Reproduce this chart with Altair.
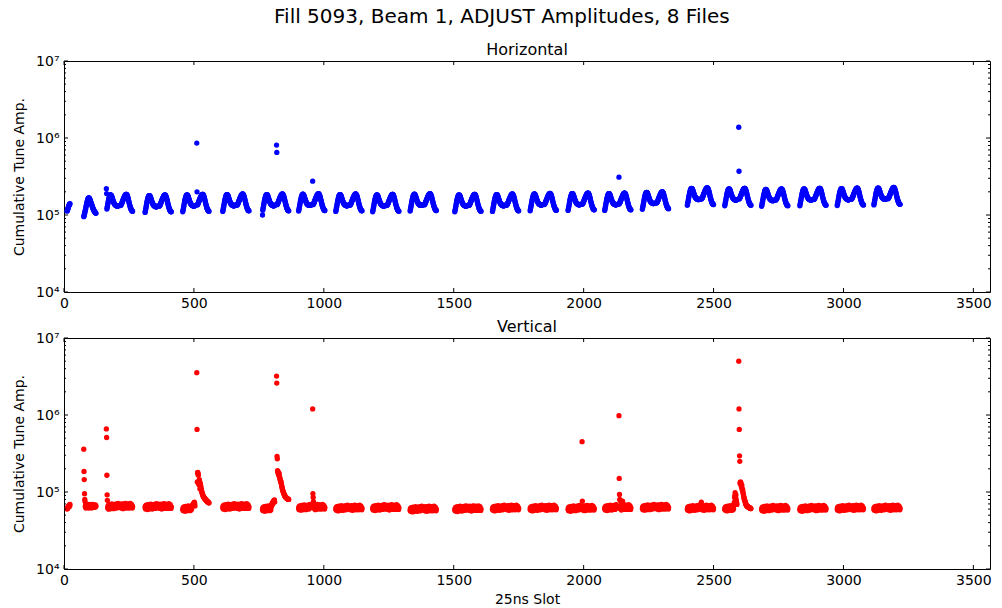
import altair as alt
import pandas as pd

FONT = "DejaVu Sans"

# ---- axes ----
SLOT_MAX = 3564
AMP_MIN, AMP_MAX = 1e4, 1e7
X_TICKS = [0, 500, 1000, 1500, 2000, 2500, 3000, 3500]
Y_TICKS = [1e4, 1e5, 1e6, 1e7]
Y_TICK_TEXT = ["10⁴", "10⁵", "10⁶", "10⁷"]
MINOR_DECADES = [1e4, 1e5, 1e6]
MINOR_MANTISSA = [2, 3, 4, 5, 6, 7, 8, 9]

# ---- filling scheme: slot of the first bunch of each injection ----
PILOT_START = 12            # 12-bunch train
SINGLE_START = 76           # single 48-bunch batch
TRAIN_START = [163, 312, 457, 611, 764, 903, 1046, 1188, 1332, 1504, 1649,
               1794, 1940, 2081, 2226, 2399, 2543, 2685, 2832, 2976, 3117]
BATCH_LEN = 48
BATCH_GAP = 6               # empty slots between the two batches of a train

# ---- horizontal amplitude along each bunch group (units of 1e5) ----
H_PILOT = [1.12, 1.15, 1.18, 1.21, 1.24, 1.27, 1.30, 1.33, 1.35, 1.37, 1.39, 1.40]
H_SINGLE = [0.95, 0.97, 1.00, 1.03, 1.07, 1.11, 1.15, 1.19, 1.24, 1.29, 1.34, 1.39,
            1.44, 1.49, 1.53, 1.57, 1.61, 1.64, 1.66, 1.67, 1.67, 1.66, 1.64, 1.61,
            1.58, 1.55, 1.51, 1.48, 1.44, 1.41, 1.38, 1.35, 1.32, 1.29, 1.26, 1.23,
            1.21, 1.19, 1.17, 1.15, 1.13, 1.11, 1.10, 1.09, 1.08, 1.07, 1.06, 1.05]
H_BATCH_A = [1.08, 1.12, 1.17, 1.22, 1.27, 1.33, 1.39, 1.45, 1.51, 1.56, 1.61, 1.66,
             1.70, 1.73, 1.76, 1.78, 1.79, 1.79, 1.78, 1.76, 1.73, 1.70, 1.66, 1.62,
             1.58, 1.54, 1.50, 1.47, 1.44, 1.41, 1.39, 1.37, 1.35, 1.34, 1.33, 1.32,
             1.31, 1.30, 1.30, 1.29, 1.29, 1.28, 1.28, 1.28, 1.28, 1.29, 1.29, 1.30]
H_BATCH_B = [1.30, 1.31, 1.32, 1.34, 1.36, 1.38, 1.41, 1.44, 1.47, 1.50, 1.53, 1.56,
             1.59, 1.62, 1.65, 1.68, 1.71, 1.74, 1.76, 1.78, 1.80, 1.81, 1.82, 1.82,
             1.81, 1.79, 1.76, 1.73, 1.69, 1.65, 1.60, 1.55, 1.50, 1.45, 1.40, 1.36,
             1.32, 1.28, 1.25, 1.22, 1.19, 1.17, 1.15, 1.13, 1.12, 1.11, 1.10, 1.10]
H_LEVEL = [1.02, 1.00, 1.02, 1.03, 1.03, 1.04, 1.03, 1.02, 1.04, 1.02, 1.03,
           1.05, 1.06, 1.06, 1.10, 1.24, 1.22, 1.20, 1.22, 1.23, 1.25]
H_SPIKE_SLOT = [163, 164, 511, 512, 764, 818, 819, 957, 2136, 2597, 2598]
H_SPIKE_AMP = [2.2e5, 1.9e5, 8.6e5, 2.0e5, 1.0e5, 8.1e5, 6.5e5, 2.75e5, 3.1e5, 1.38e6, 3.7e5]

# ---- vertical amplitude along each bunch group (units of 1e4) ----
V_PILOT = [6.0, 6.2, 6.1, 6.4, 6.3, 6.5, 6.6, 6.4, 6.7, 6.8, 6.6, 6.9]
V_SINGLE = [6.6, 6.4, 6.9, 6.5, 6.3, 6.7, 6.5, 6.8, 6.2, 6.6, 6.4, 6.9,
            6.5, 6.3, 6.7, 6.6, 6.4, 6.8, 6.5, 6.2, 6.6, 6.9, 6.4, 6.5,
            6.7, 6.3, 6.6, 6.8, 6.4, 6.5, 6.2, 6.7, 6.6, 6.4, 6.9, 6.5,
            6.3, 6.6, 6.8, 6.4, 6.5, 6.7, 6.3, 6.6, 6.4, 6.8, 6.5, 6.6]
V_BATCH_A = [6.1, 6.4, 5.9, 6.3, 6.6, 6.0, 6.2, 6.5, 6.1, 5.8, 6.3, 6.7,
             6.2, 6.0, 6.4, 6.6, 6.1, 5.9, 6.3, 6.5, 6.2, 6.8, 6.0, 6.3,
             6.4, 6.1, 6.6, 6.2, 5.9, 6.4, 6.7, 6.3, 6.0, 6.5, 6.2, 6.6,
             6.1, 6.4, 6.8, 6.3, 6.0, 6.5, 6.7, 6.2, 6.4, 6.9, 6.3, 6.6]
V_BATCH_B = [6.3, 6.6, 6.0, 6.4, 6.8, 6.2, 6.5, 6.1, 6.7, 6.3, 5.9, 6.4,
             6.6, 6.2, 6.8, 6.4, 6.0, 6.5, 6.3, 6.9, 6.1, 6.4, 6.7, 6.2,
             6.5, 6.0, 6.6, 6.3, 6.8, 6.2, 6.4, 6.1, 6.7, 6.5, 6.0, 6.3,
             6.6, 6.2, 6.9, 6.4, 6.1, 6.5, 6.3, 6.7, 6.2, 6.4, 6.0, 6.3]
V_LEVEL = [1.03, 1.02, 0.97, 1.02, 0.97, 1.00, 0.98, 0.99, 0.95, 0.96, 0.98,
           0.98, 0.97, 0.99, 1.00, 0.98, 0.98, 0.97, 0.97, 0.98, 0.98]
V_SPIKE_SLOT = [76, 77, 78, 79, 80, 81, 163, 164, 165, 166, 167,
                957, 958, 959, 960, 961, 1994, 1995,
                2136, 2137, 2138, 2139, 2141, 2144, 2150, 2453]
V_SPIKE_AMP = [36, 18.5, 14.5, 9.5, 8.0, 7.5, 66, 51, 16.5, 9.2, 7.8,
               120, 9.5, 8.5, 7.5, 7.2, 45, 7.6,
               98, 15, 9.3, 8.0, 7.8, 7.5, 7.6, 7.4]
# stretches of consecutive bunches with raised vertical activity
V_RUN_START = [492, 511, 798, 818, 2578, 2597]
V_RUN_AMP = [
    [6.4, 6.6, 6.5, 6.8, 6.7, 6.9, 7.0, 6.8, 7.2, 7.0, 7.4, 7.1, 6.6],
    [355, 65, 13.5, 17.8, 18.0, 17.2, 16.5, 13.0, 12.5, 13.8, 14.5, 12.2,
     11.0, 13.2, 12.6, 12.0, 11.6, 11.0, 10.6, 10.2, 9.9, 9.6, 9.4, 9.2,
     9.0, 8.8, 8.7, 8.6, 8.5, 8.4, 8.3, 8.2, 8.1, 8.0, 8.0, 7.9,
     7.8, 7.8, 7.7, 7.6, 7.6, 7.5, 7.5, 7.4, 7.4, 7.3, 7.3, 7.2],
    [6.6, 6.9, 6.7, 7.0, 7.2, 7.0, 7.4, 7.3, 7.6, 7.5, 7.8, 7.6, 7.9, 7.4],
    [320, 260, 29, 27, 19, 18.5, 17.5, 18, 17, 16.5, 17.5, 16,
     15.5, 15, 14.5, 14, 13.8, 13.5, 13, 12.5, 12, 11.6, 11.2, 10.8,
     10.5, 10.2, 10, 9.8, 9.6, 9.4, 9.2, 9.0, 8.9, 8.8, 8.7, 8.6,
     8.5, 8.4, 8.4, 8.3, 8.3, 8.2, 8.2, 8.1, 8.1, 8.0, 8.0, 8.0],
    [6.8, 7.0, 7.4, 8.5, 9.0, 9.8, 8.8, 8.5, 9.2, 8.0, 7.6, 7.2, 6.9],
    [500, 120, 65, 29.5, 25, 13.2, 12.8, 13.5, 12.5, 13, 12, 11.5,
     12.2, 11, 10.5, 10.8, 10, 9.6, 9.2, 8.8, 8.5, 8.2, 8.0, 7.8,
     7.6, 7.4, 7.2, 7.0, 6.9, 6.8, 6.7, 6.6, 6.6, 6.5, 6.5, 6.4,
     6.4, 6.4, 6.3, 6.3, 6.3, 6.2, 6.2, 6.2, 6.2, 6.1, 6.1, 6.1],
]


def bunch_amplitudes():
    h, v = {}, {}
    for i, (a, b) in enumerate(zip(H_PILOT, V_PILOT)):
        h[PILOT_START + i] = a * 1e5
        v[PILOT_START + i] = b * 1e4
    for i, (a, b) in enumerate(zip(H_SINGLE, V_SINGLE)):
        h[SINGLE_START + i] = a * 1e5
        v[SINGLE_START + i] = b * 1e4
    for t, start in enumerate(TRAIN_START):
        second = start + BATCH_LEN + BATCH_GAP
        for i in range(BATCH_LEN):
            h[start + i] = H_BATCH_A[i] * H_LEVEL[t] * 1e5
            h[second + i] = H_BATCH_B[i] * H_LEVEL[t] * 1e5
            v[start + i] = V_BATCH_A[i] * V_LEVEL[t] * 1e4
            v[second + i] = V_BATCH_B[i] * V_LEVEL[t] * 1e4
    for s, a in zip(H_SPIKE_SLOT, H_SPIKE_AMP):
        if s in h:
            h[s] = a
    for start, run in zip(V_RUN_START, V_RUN_AMP):
        for i, a in enumerate(run):
            if start + i in v:
                v[start + i] = a * 1e4
    for s, a in zip(V_SPIKE_SLOT, V_SPIKE_AMP):
        if s in v:
            v[s] = a * 1e4
    hdf = pd.DataFrame({"slot": list(h.keys()), "amp": list(h.values())})
    vdf = pd.DataFrame({"slot": list(v.keys()), "amp": list(v.values())})
    return hdf, vdf


h_df, v_df = bunch_amplitudes()

W, H = 926, 231

x_scale = alt.Scale(domain=[0, SLOT_MAX], nice=False, zero=False)
y_scale = alt.Scale(type="log", domain=[AMP_MIN, AMP_MAX], nice=False)

label_expr = " : ".join(
    f"datum.value == {int(v)} ? '{t}'" for v, t in zip(Y_TICKS, Y_TICK_TEXT)
) + " : ''"

major_df = pd.DataFrame({"amp": Y_TICKS})
minor_df = pd.DataFrame({"amp": [m * d for d in MINOR_DECADES for m in MINOR_MANTISSA]})
xtick_df = pd.DataFrame({"slot": X_TICKS})


def panel(df, color, name, x_title):
    x_axis = alt.Axis(values=X_TICKS, tickSize=0, labelPadding=4, domain=False,
                      grid=False, format="d", labelFlush=False,
                      title=x_title, titlePadding=5)
    y_axis = alt.Axis(values=Y_TICKS, labelExpr=label_expr, tickSize=0, labelPadding=5,
                      domain=False, grid=False, title="Cumulative Tune Amp.",
                      titlePadding=9)
    x_enc = alt.X("slot:Q", scale=x_scale, axis=x_axis)
    y_enc = alt.Y("amp:Q", scale=y_scale, axis=y_axis)

    pts = alt.Chart(df).mark_circle(size=28, opacity=1, color=color).encode(
        x=x_enc, y=y_enc,
    )

    # inward tick marks on all four sides of the frame
    def ytick(data, x0, x1):
        return alt.Chart(data).mark_rule(color="black", strokeWidth=1).encode(
            y=y_enc, x=alt.value(x0), x2=alt.value(x1),
        )

    def xtick(y0, y1):
        return alt.Chart(xtick_df).mark_rule(color="black", strokeWidth=1).encode(
            x=x_enc, y=alt.value(y0), y2=alt.value(y1),
        )

    layers = [
        pts,
        ytick(major_df, 0, 4), ytick(major_df, W, W - 4),
        ytick(minor_df, 0, 2), ytick(minor_df, W, W - 2),
        xtick(H, H - 4), xtick(0, 4),
    ]
    return alt.layer(*layers).properties(
        width=W, height=H,
        title=alt.TitleParams(name, fontSize=16, font=FONT, fontWeight="normal",
                              color="black", offset=-4),
    )


top = panel(h_df, "#0000ff", "Horizontal", "")
bottom = panel(v_df, "#ff0000", "Vertical", "25ns Slot")

chart = alt.vconcat(top, bottom, spacing=7).properties(
    title=alt.TitleParams("Fill 5093, Beam 1, ADJUST Amplitudes, 8 Files", fontSize=20,
                          font=FONT, fontWeight="normal", color="black", anchor="middle",
                          offset=15),
    padding={"left": 12, "top": 6, "right": 5, "bottom": 5},
    background="white",
).configure_view(
    stroke="black", strokeWidth=1
).configure_axis(
    labelFont=FONT, labelFontSize=14, labelColor="black",
    titleFont=FONT, titleFontSize=14, titleFontWeight="normal", titleColor="black",
)

chart.save("out.html", embed_options={"renderer": "svg", "actions": False})
